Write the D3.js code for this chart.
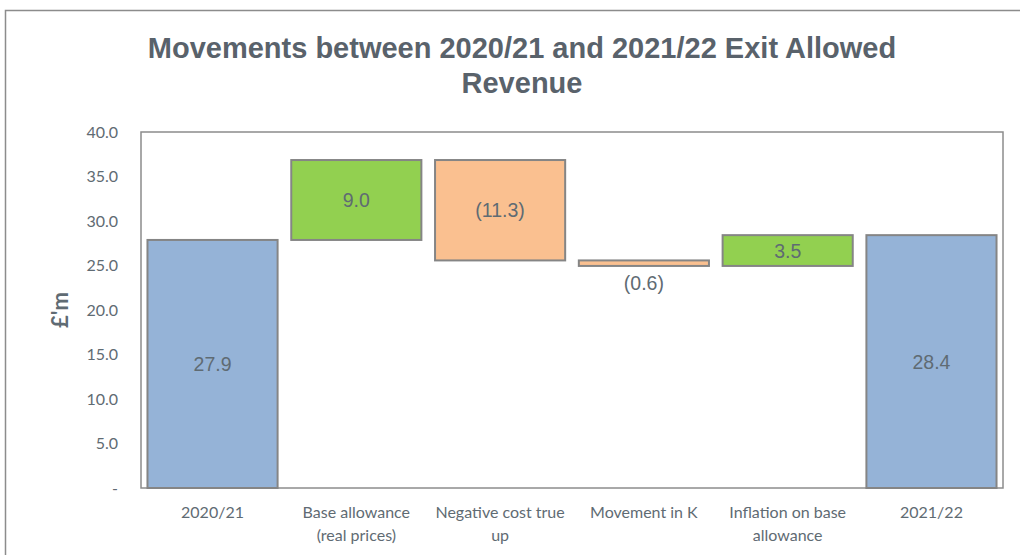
<!DOCTYPE html>
<html><head><meta charset="utf-8">
<script src="https://cdn.jsdelivr.net/npm/d3@7"></script>
<style>body{margin:0;background:#fff}</style>
</head><body>
<svg id="c" width="1020" height="555"></svg>
<script>
const categories = ["2020/21", "Base allowance (real prices)", "Negative cost true up", "Movement in K", "Inflation on base allowance", "2021/22"];
const xLabelLines = [["2020/21"], ["Base allowance", "(real prices)"], ["Negative cost true", "up"], ["Movement in K"], ["Inflation on base", "allowance"], ["2021/22"]];
const kinds = ["total", "delta", "delta", "delta", "delta", "total"];
const values = [27.87, 8.98, -11.28, -0.62, 3.46, 28.41];
const yTicks = [0, 5, 10, 15, 20, 25, 30, 35, 40];
const title = ["Movements between 2020/21 and 2021/22 Exit Allowed", "Revenue"];

const svg = d3.select("#c");
const m = {left: 141, right: 1003, top: 132, bottom: 488};

// outer frame
svg.append("rect").attr("x", 5.5).attr("y", 10.5).attr("width", 1030).attr("height", 600)
  .attr("fill", "none").attr("stroke", "#8c8c8c").attr("stroke-width", 1.5);

// title
svg.append("text").attr("x", 522).attr("y", 58).attr("text-anchor", "middle")
  .attr("font-family", "Liberation Sans, Arial, sans-serif").attr("font-weight", "bold")
  .attr("font-size", 29).attr("fill", "#59626b")
  .selectAll("tspan").data(title).join("tspan")
  .attr("x", 522).attr("dy", (d, i) => i ? 35 : 0).text(d => d);

const x = d3.scaleBand().domain(categories).range([m.left, m.right]).paddingInner(0.095).paddingOuter(0.045);
const y = d3.scaleLinear().domain([0, 40]).range([m.bottom, m.top]);

let run = 0;
const bars = categories.map((c, i) => {
  let y0, y1;
  if (kinds[i] === "total") { y0 = 0; y1 = values[i]; run = values[i]; }
  else { y0 = run; y1 = run + values[i]; run = y1; }
  return {c, i, lo: Math.min(y0, y1), hi: Math.max(y0, y1), v: values[i], kind: kinds[i]};
});
const color = d => d.kind === "total" ? "#95b3d7" : (d.v >= 0 ? "#92d050" : "#fac090");

svg.append("rect").attr("x", m.left).attr("y", m.top).attr("width", m.right - m.left).attr("height", m.bottom - m.top)
  .attr("fill", "none").attr("stroke", "#8c8c8c").attr("stroke-width", 1.5);

svg.append("g").selectAll("rect").data(bars).join("rect")
  .attr("x", d => x(d.c)).attr("width", x.bandwidth())
  .attr("y", d => y(d.hi)).attr("height", d => y(d.lo) - y(d.hi))
  .attr("fill", color).attr("stroke", "#858585").attr("stroke-width", 2);

const fmt = v => { const s = d3.format(".1f")(Math.abs(v)); return v < 0 ? "(" + s + ")" : s; };
svg.append("g").selectAll("text").data(bars).join("text")
  .attr("x", d => x(d.c) + x.bandwidth() / 2)
  .attr("y", d => {
    const h = y(d.lo) - y(d.hi);
    if (h < 20) return y(d.lo) + 24;
    return (y(d.lo) + y(d.hi)) / 2 + 7;
  })
  .attr("text-anchor", "middle").attr("font-family", "Liberation Sans, Arial, sans-serif")
  .attr("font-size", 19.5).attr("fill", "#5f6b73").text(d => fmt(d.v));

const yAxis = d3.axisLeft(y).tickValues(yTicks).tickSize(0).tickPadding(23)
  .tickFormat(d => d === 0 ? "-" : d3.format(".1f")(d));
const ga = svg.append("g").attr("transform", `translate(${m.left},0)`).call(yAxis);
ga.select(".domain").remove();
ga.selectAll("text").attr("font-family", "Lato, sans-serif").attr("font-size", 16).attr("fill", "#5f6b73");

svg.append("text").attr("transform", "translate(68,310) rotate(-90)").attr("text-anchor", "middle")
  .attr("font-family", "Lato, sans-serif").attr("font-weight", "bold").attr("font-size", 22)
  .attr("fill", "#5f6b73").text("£'m");

const gx = svg.append("g");
gx.selectAll("text").data(categories).join("text")
  .attr("x", d => x(d) + x.bandwidth() / 2).attr("y", 518)
  .attr("text-anchor", "middle").attr("font-family", "Lato, sans-serif").attr("font-size", 16)
  .attr("fill", "#5f6b73")
  .each(function(d, i) {
    d3.select(this).selectAll("tspan").data(xLabelLines[i]).join("tspan")
      .attr("x", x(d) + x.bandwidth() / 2).attr("dy", (t, j) => j ? 23 : 0).text(t => t);
  });
</script>
</body></html>
